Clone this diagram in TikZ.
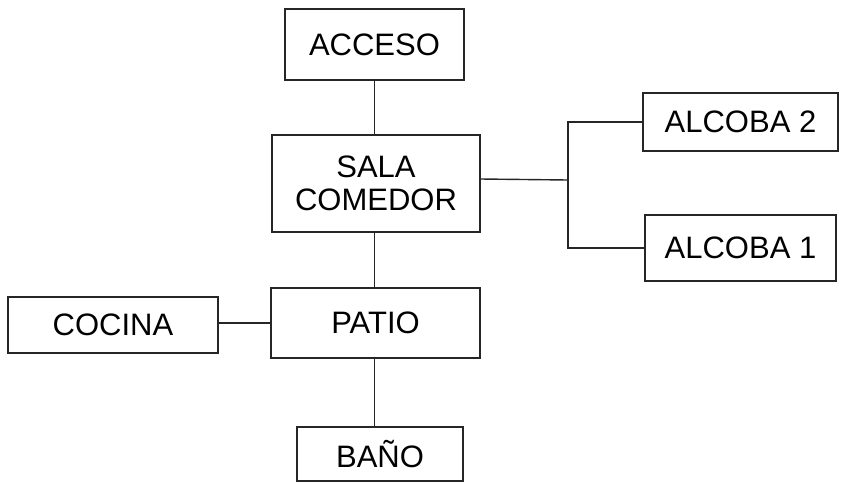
\documentclass[tikz,border=0pt]{standalone}
\usepackage{fontspec}
\setmainfont{Liberation Sans}
\begin{document}
\begin{tikzpicture}[x=1pt,y=-1pt,
  room/.style={draw=black!85,line width=1.4pt,rectangle,inner sep=0pt,align=center,
    font=\fontsize{31}{33}\selectfont},
  link/.style={draw=black!85,line width=1.4pt}]
\useasboundingbox (0,0) rectangle (845,483);
\node[room,minimum width=179pt,minimum height=71pt] (acceso) at (374.5,44.5) {ACCESO};
\node[room,minimum width=208pt,minimum height=97pt] (sala) at (376,183.5) {SALA\\COMEDOR};
\node[room,minimum width=209pt,minimum height=70pt] (patio) at (375.5,323) {PATIO};
\node[room,minimum width=210pt,minimum height=56pt] (cocina) at (113,325) {COCINA};
\node[room,minimum width=166pt,minimum height=54pt] (bano) at (380,454) {BAÑO};
\node[room,minimum width=195pt,minimum height=58pt] (alc2) at (740.5,122) {ALCOBA 2};
\node[room,minimum width=191pt,minimum height=66pt] (alc1) at (740.5,248) {ALCOBA 1};
\coordinate (j) at (568,180);
\draw[link] (acceso.south) -- (acceso.south |- sala.north);
\draw[link] (patio.north -| acceso.south) -- (sala.south -| acceso.south);
\draw[link] (patio.south -| acceso.south) -- (bano.north -| acceso.south);
\draw[link] (cocina.east |- 0,323) -- (patio.west |- 0,323);
\draw[link] (sala.east |- 0,179) -- (j);
\draw[link] (alc2.west) -| (j) |- (alc1.west);
\end{tikzpicture}
\end{document}
